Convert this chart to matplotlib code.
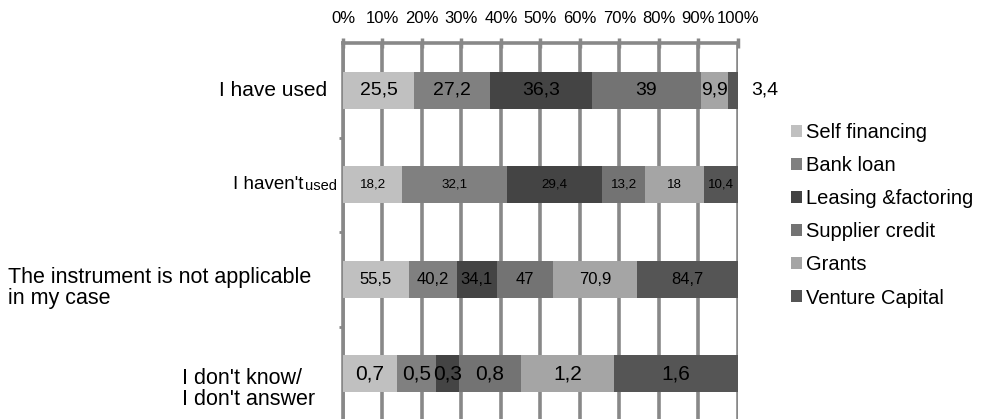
import numpy as np
import matplotlib.pyplot as plt
from matplotlib.transforms import blended_transform_factory

plt.rcParams['font.family'] = ['Liberation Sans', 'DejaVu Sans']

# answers (rows) and instruments (stacked segments)
answers = ["I have used", "I haven't used",
           "The instrument is not applicable\nin my case",
           "I don't know/\nI don't answer"]
instruments = ["Self financing", "Bank loan", "Leasing &factoring",
               "Supplier credit", "Grants", "Venture Capital"]
values = [
    [25.5, 27.2, 36.3, 39, 9.9, 3.4],
    [18.2, 32.1, 29.4, 13.2, 18, 10.4],
    [55.5, 40.2, 34.1, 47, 70.9, 84.7],
    [0.7, 0.5, 0.3, 0.8, 1.2, 1.6],
]
colors = ["#c0c0c0", "#808080", "#444444", "#737373", "#a5a5a5", "#555555"]
label_sizes = [14, 9.6, 12, 15]

fig = plt.figure(figsize=(9.87, 4.19), dpi=100)
ax = fig.add_axes([0.3475, -0.005, 0.4, 0.902])

vals = np.array(values, dtype=float)
shares = vals / vals.sum(axis=1, keepdims=True)
y = np.arange(len(answers))

for i in range(len(answers)):
    left = 0.0
    for j in range(len(instruments)):
        w = shares[i, j]
        ax.barh(y[i], w, left=left, height=0.39, color=colors[j], zorder=3,
                label=instruments[j] if i == 0 else None)
        txt = f"{values[i][j]:g}".replace(".", ",")
        if i == 0 and j == len(instruments) - 1:
            # last segment is too thin, so its value sits right of the bar
            ax.annotate(txt, (1.0, y[i]), xytext=(10, 0), textcoords="offset points",
                        ha="left", va="center", fontsize=label_sizes[i],
                        annotation_clip=False)
        else:
            ax.text(left + w / 2, y[i], txt, ha="center", va="center",
                    fontsize=label_sizes[i], zorder=4)
        left += w

ax.set_xlim(0, 1)
ax.set_ylim(len(answers) - 0.5, -0.5)
ax.xaxis.tick_top()
ax.set_xticks(np.linspace(0, 1, 11))
ax.set_xticklabels([f"{k}%" for k in range(0, 101, 10)], fontsize=12)
ax.tick_params(axis="x", direction="inout", length=7, width=2.5, color="#888888", pad=9)
ax.grid(axis="x", color="#888888", linewidth=2.6, zorder=0)

ax.set_yticks(np.arange(len(answers) - 1) + 0.5)
ax.set_yticklabels([])
ax.tick_params(axis="y", direction="out", length=3, width=2, color="#888888")
for s in ["right", "bottom"]:
    ax.spines[s].set_visible(False)
for s in ["left", "top"]:
    ax.spines[s].set_color("#888888")
    ax.spines[s].set_linewidth(2.6)

# category labels
tr = blended_transform_factory(fig.transFigure, ax.transData)
ax.text(327 / 987, 0, answers[0], transform=tr, ha="right", va="center", fontsize=15)
ax.text(303 / 987, 1, "I haven't", transform=tr, ha="right", va="center", fontsize=13.5)
ax.text(305 / 987, 1.01, "used", transform=tr, ha="left", va="center", fontsize=10.5)
ax.text(8 / 987, 2.09, answers[2], transform=tr, ha="left", va="center",
        fontsize=15.5, linespacing=1.0)
ax.text(182 / 987, 3.16, answers[3], transform=tr, ha="left", va="center",
        fontsize=15.5, linespacing=1.0)

fig.legend(loc="upper left", bbox_to_anchor=(783 / 987, 1 - 115 / 419),
           frameon=False, fontsize=14.5, handlelength=0.55, handleheight=0.55,
           handletextpad=0.2, labelspacing=0.7, borderaxespad=0)

fig.savefig("out.png", dpi=100)
